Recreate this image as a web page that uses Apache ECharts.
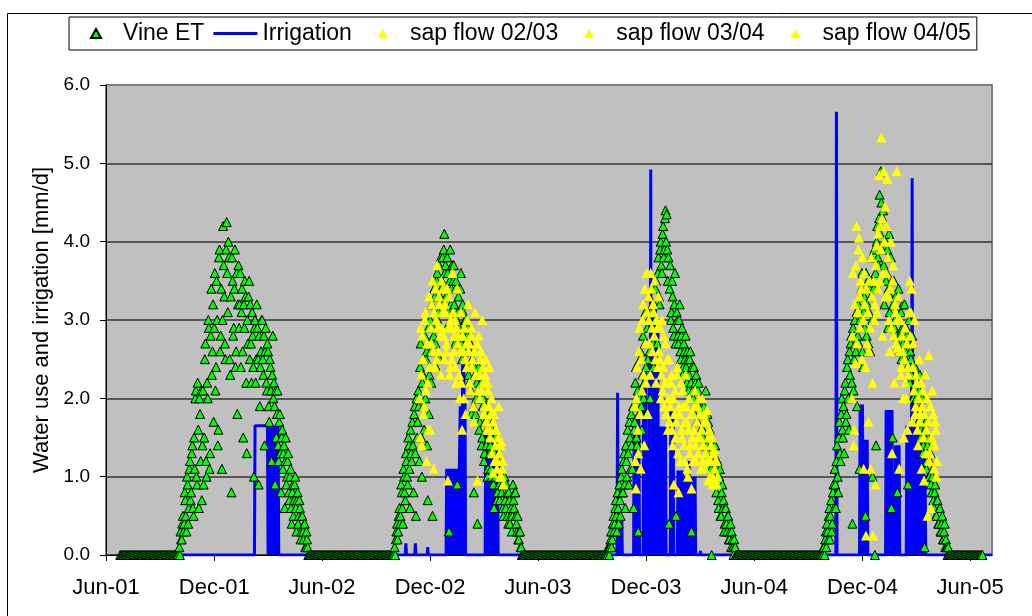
<!DOCTYPE html>
<html>
<head>
<meta charset="utf-8">
<title>Vine ET, irrigation and sap flow</title>
<script src="https://cdn.jsdelivr.net/npm/echarts@6/dist/echarts.min.js"></script>
<style>
  html, body { margin: 0; padding: 0; background: #fff; }
  #chart { width: 1032px; height: 616px; }
</style>
</head>
<body>
<div id="chart"></div>
<script>
// x axis: days counted from 1 Jun 2001, ticks every six months
const tickDates = ['2001-06-01', '2001-12-01', '2002-06-01', '2002-12-01', '2003-06-01',
                   '2003-12-01', '2004-06-01', '2004-12-01', '2005-06-01'];
const tickLabels = ['Jun-01', 'Dec-01', 'Jun-02', 'Dec-02', 'Jun-03', 'Dec-03', 'Jun-04', 'Dec-04', 'Jun-05'];
const axisStart = '2001-06-01';
const axisEnd = '2005-07-08';
const yTicks = [0, 1, 2, 3, 4, 5, 6];

// Vine ET (mm/d): dry spells (zeros, every 2nd day) and growing seasons (daily)
const etStarts = ['2001-06-25', '2001-10-03', '2002-05-11', '2002-10-02', '2003-05-08',
                  '2003-09-27', '2004-05-06', '2004-09-25', '2005-04-29'];
const etSteps = [2, 1, 2, 1, 2, 1, 2, 1, 2];
const etDry1 = [0,0,0,0,0,0,0,0,0,0, 0,0,0,0,0,0,0,0,0,0, 0,0,0,0,0,0,0,0,0,0,
                0,0,0,0,0,0,0,0,0,0, 0,0,0,0,0,0,0,0,0,0];
const etSeason1 = [
  0.1,0.0, 0.3,0.2, 0.2,0.4, 0.5,0.3, 0.4,0.8, 0.7,0.5, 0.3,1.0, 0.9,0.4, 0.6,1.1, 1.2,0.7,
  0.8,1.3, 1.4,0.6, 0.5,1.5, 1.1,2.0, 2.1,1.0, 0.9,2.2, 1.6,0.6, 2.0,1.8, 1.2,2.1, 0.7,1.4,
  2.1,0.9, 1.5,2.5, 2.7,1.2, 1.0,2.2, 2.0,3.0, 2.9,1.1, 1.3,2.8, 3.4,2.3, 2.6,3.2, 1.7,2.9,
  3.6,2.1, 2.4,3.5, 3.0,1.4, 1.6,3.8, 3.9,2.6, 2.8,3.4, 1.1,3.0, 4.2,3.7, 3.3,2.7, 2.5,3.9,
  4.25,3.6, 3.1,4.0, 3.8,2.5, 2.3,3.3, 0.8,3.8, 3.5,2.8, 2.9,3.4, 3.9,2.4, 2.6,3.6, 1.8,3.2,
  3.7,2.9, 3.2,3.6, 2.4,3.1, 3.4,2.6, 1.5,3.2, 2.9,3.5, 3.3,2.2, 1.3,3.0, 2.7,3.3, 3.5,2.5,
  3.2,2.7, 2.2,3.1, 2.8,2.4, 1.0,2.9, 3.0,2.2, 2.5,3.2, 2.9,2.5, 0.9,2.8, 1.9,2.4, 2.6,3.0,
  3.0,2.5, 2.3,2.8, 1.4,2.6, 2.9,2.2, 2.1,2.7, 2.6,1.9, 1.7,2.5, 2.4,2.1, 1.2,2.3, 2.8,2.0,
  2.2,1.9, 0.9,2.1, 1.5,1.8, 2.1,1.4, 1.2,1.7, 1.8,1.3, 0.8,1.5, 1.6,1.1, 1.3,1.4, 0.6,1.2,
  1.5,0.9, 1.0,1.2, 1.3,0.8, 0.7,1.0, 1.1,0.6, 0.4,0.8, 0.9,0.5, 0.7,0.9, 1.0,0.6, 0.3,0.7,
  0.8,0.4, 0.5,0.7, 0.6,0.2, 0.3,0.5, 0.5,0.3, 0.2,0.4, 0.4,0.1, 0.1,0.3, 0.2,0.1, 0.0];
const etDry2 = [0,0,0,0,0,0,0,0,0,0, 0,0,0,0,0,0,0,0,0,0, 0,0,0,0,0,0,0,0,0,0,
                0,0,0,0,0,0,0,0,0,0, 0,0,0,0,0,0,0,0,0,0, 0,0,0,0,0,0,0,0,0,0,
                0,0,0,0,0,0,0,0,0,0, 0,0];
const etSeason2 = [
  0.1,0.0, 0.2,0.3, 0.4,0.2, 0.3,0.5, 0.6,0.4, 0.5,0.9, 0.8,0.6, 0.4,1.1, 1.0,0.8, 0.7,1.3,
  1.2,1.0, 0.9,1.5, 1.4,1.1, 0.6,1.6, 1.3,1.2, 1.7,1.4, 0.8,1.8, 1.9,1.3, 0.5,2.0, 1.5,1.7,
  2.1,1.9, 1.2,2.4, 2.7,1.5, 1.0,2.2, 2.3,1.9, 1.6,2.8, 2.0,2.5, 2.6,1.4, 0.7,2.9, 1.8,2.3,
  3.0,2.6, 2.2,3.2, 0.5,2.9, 2.8,3.4, 3.3,2.7, 2.4,3.5, 3.6,3.0, 3.1,3.7, 2.5,3.3, 3.8,3.4,
  3.5,3.8, 3.2,3.9, 4.1,3.6, 3.7,3.3, 2.9,3.8, 3.6,3.1, 0.3,3.5, 3.9,3.2, 3.4,3.7, 3.0,3.5,
  3.7,3.2, 2.7,3.4, 3.5,3.0, 0.9,3.1, 3.3,2.9, 2.8,3.4, 3.6,2.7, 2.5,3.2, 3.1,2.8, 2.6,3.0,
  3.0,2.7, 2.4,2.8, 2.9,2.3, 2.2,2.6, 2.7,2.1, 1.8,2.5, 2.5,1.9, 0.8,2.4, 2.3,1.8, 2.0,2.2,
  0.4,2.1, 2.4,1.6, 1.7,2.0, 2.2,1.4, 1.5,1.9, 2.0,1.2, 1.3,1.7, 1.9,1.4, 1.6,1.0, 1.1,1.5,
  1.8,1.3, 1.4,1.1, 1.0,1.6, 1.7,0.9, 0.6,1.3, 1.5,1.0, 1.2,0.7, 0.8,1.2, 1.3,0.9, 0.7,1.1,
  1.1,0.8, 0.9,0.6, 0.5,1.0, 1.0,0.7, 0.6,0.9, 0.8,0.5, 0.4,0.8, 0.7,0.4, 0.5,0.6, 0.3,0.5,
  0.9,0.7, 0.6,0.8, 0.8,0.5, 0.4,0.3, 0.5,0.2, 0.2,0.3, 0.3,0.1, 0.1,0.0, 0.0];
const etDry3 = [0,0,0,0,0,0,0,0,0,0, 0,0,0,0,0,0,0,0,0,0, 0,0,0,0,0,0,0,0,0,0,
                0,0,0,0,0,0,0,0,0,0, 0,0,0,0,0,0,0,0,0,0, 0,0,0,0,0,0,0,0,0,0,
                0,0,0,0,0,0,0,0,0,0, 0];
const etSeason3 = [
  0.0,0.1, 0.1,0.0, 0.1,0.2, 0.3,0.1, 0.2,0.4, 0.5,0.3, 0.4,0.6, 0.7,0.5, 0.3,0.8, 0.6,0.4,
  0.9,0.7, 0.5,1.0, 1.1,0.8, 0.8,1.2, 1.3,0.9, 0.6,1.4, 1.2,1.0, 1.6,1.3, 0.9,1.7, 1.5,1.1,
  1.8,1.4, 1.1,1.9, 0.6,1.6, 1.7,2.2, 2.4,1.5, 1.4,2.1, 0.3,1.8, 2.0,2.5, 2.6,1.9, 1.6,2.3,
  2.8,2.0, 2.2,2.7, 3.1,2.4, 1.8,2.9, 2.5,3.0, 3.3,2.6, 2.0,3.1, 2.9,3.4, 3.2,2.7, 2.4,3.2,
  3.0,3.4, 3.5,2.9, 2.7,3.6, 3.8,3.3, 3.2,3.9, 4.0,3.7, 3.6,4.1, 4.2,3.8, 3.9,4.3, 4.4,4.0,
  4.35,3.9, 3.5,3.8, 0.4,3.4, 3.7,3.0, 3.1,3.5, 3.3,2.9, 2.8,3.2, 3.6,2.7, 0.5,3.1, 3.0,2.8,
  2.7,3.0, 3.2,2.6, 2.5,2.8, 2.9,2.3, 2.4,2.7, 2.6,2.5, 2.8,2.4, 2.2,2.6, 2.5,2.1, 2.3,2.5,
  2.6,2.2, 0.3,2.4, 2.1,2.0, 2.4,1.8, 1.9,2.2, 2.3,1.7, 1.7,2.1, 2.2,1.9, 2.0,1.5, 1.6,2.0,
  1.9,1.6, 1.5,1.9, 1.8,1.4, 2.1,1.7, 1.4,1.8, 1.7,1.3, 1.2,1.6, 1.5,1.1, 0.0,1.4, 1.3,1.0,
  1.0,1.2, 1.4,0.9, 0.8,1.1, 1.2,0.7, 0.6,1.0, 1.1,0.5, 0.5,0.8, 0.9,0.6, 0.7,0.3, 0.4,0.6,
  0.6,0.4, 0.3,0.5, 0.5,0.2, 0.2,0.3, 0.4,0.1, 0.3,0.2, 0.1,0.0, 0.2,0.1, 0.1,0.0, 0.0,0.0, 0.0];
const etDry4 = [0,0,0,0,0,0,0,0,0,0, 0,0,0,0,0,0,0,0,0,0, 0,0,0,0,0,0,0,0,0,0,
                0,0,0,0,0,0,0,0,0,0, 0,0,0,0,0,0,0,0,0,0, 0,0,0,0,0,0,0,0,0,0,
                0,0,0,0,0,0,0,0,0,0, 0];
const etSeason4 = [
  0.0,0.1, 0.1,0.0, 0.2,0.3, 0.1,0.4, 0.3,0.2, 0.5,0.6, 0.2,0.5, 0.7,0.3, 0.4,0.8, 0.9,0.6,
  1.1,0.9, 0.6,1.2, 1.4,1.0, 0.8,1.5, 1.7,1.3, 1.2,1.8, 2.0,1.6, 1.5,1.9, 1.3,2.1, 2.2,1.7,
  1.8,2.4, 2.5,2.0, 1.6,2.6, 2.3,2.7, 2.8,2.2, 0.4,2.9, 2.1,2.5, 3.0,2.7, 2.6,3.1, 1.9,2.8,
  3.2,2.7, 1.1,3.0, 2.9,3.4, 3.6,2.6, 2.4,3.1, 3.3,2.9, 0.5,3.6, 2.8,3.2, 3.5,2.7, 3.1,3.4,
  2.6,3.3, 3.8,3.0, 1.0,3.5, 3.4,3.9, 0.0,3.6, 1.4,4.0, 4.2,3.8, 3.7,4.3, 4.6,4.1, 4.9,4.5,
  3.9,4.3, 4.4,3.7, 3.2,4.0, 4.0,3.5, 3.6,3.9, 2.9,3.4, 4.1,3.1, 3.3,3.8, 0.6,3.5, 1.5,3.2,
  3.5,2.9, 3.0,3.3, 2.8,3.1, 0.8,2.7, 3.4,3.0, 2.6,2.8, 3.1,2.5, 2.9,3.2, 2.7,2.9, 3.2,2.6,
  2.5,2.9, 2.8,2.4, 0.9,2.7, 3.0,2.2, 2.6,2.5, 2.3,2.8, 2.7,2.0, 2.1,2.4, 2.4,1.9, 2.0,2.3,
  2.2,1.7, 1.8,2.1, 2.3,1.5, 1.6,1.9, 2.0,1.3, 1.4,1.8, 0.1,1.6, 1.7,1.1, 1.2,1.4, 1.5,1.0,
  1.0,1.2, 1.3,0.9, 0.8,1.0, 1.1,0.7, 0.6,0.8, 0.9,0.5, 0.5,0.7, 0.7,0.4, 0.4,0.6, 0.6,0.3,
  0.3,0.4, 0.5,0.2, 0.2,0.3, 0.4,0.1, 0.2,0.1, 0.1,0.0, 0.1,0.0, 0.0];
const etDry5 = [0,0,0,0,0,0,0,0,0,0, 0,0,0,0,0,0,0,0,0,0, 0,0,0,0,0,0,0,0];
const etRuns = [etDry1, etSeason1, etDry2, etSeason2, etDry3, etSeason3, etDry4, etSeason4, etDry5];

// sap flow (mm/d), daily, one run per season
const sapStarts = ['2002-11-13', '2003-11-12', '2004-11-13'];
const sap0203 = [
  2.0,1.5, 2.9,2.3, 1.4,2.8, 2.5,1.8, 1.9,3.0, 3.1,2.1, 1.2,2.7, 2.2,1.6, 3.3,2.4, 1.6,2.9,
  2.7,3.2, 3.5,2.6, 1.1,3.1, 2.4,3.4, 3.0,2.5, 3.7,2.9, 2.6,3.3, 3.2,2.8, 2.3,3.5, 2.9,3.1,
  3.4,2.8, 2.5,3.2, 3.1,2.6, 2.7,3.4, 0.95,2.9, 3.3,2.3, 2.4,3.0, 2.9,2.5, 3.6,3.1, 2.6,2.8,
  3.0,2.4, 2.2,2.9, 3.4,2.7, 2.8,2.3, 2.0,2.6, 3.1,2.2, 1.6,2.8, 2.6,2.0, 2.9,2.5, 1.8,2.7,
  2.4,3.0, 3.2,2.6, 2.7,2.2, 2.1,2.8, 2.9,2.4, 2.5,1.9, 1.7,2.6, 3.1,2.3, 2.3,2.7, 0.95,2.1,
  2.8,2.3, 2.0,2.5, 2.6,2.1, 3.0,2.4, 2.2,1.8, 1.9,2.3, 2.5,1.7, 1.6,2.2, 2.1,1.9, 2.4,1.6,
  1.5,1.8, 2.0,1.3, 1.05,1.7, 1.8,1.2, 1.4,1.6, 1.6,1.1, 1.2,1.5, 1.9,1.3, 1.0,1.4, 1.45,1.0, 1.1,1.2, 0.9];
const sap0304 = [
  1.9,1.2, 0.85,2.0, 2.4,1.6, 1.3,2.6, 2.9,1.8, 1.1,2.5, 2.1,3.0, 3.2,2.3, 1.4,3.4, 2.7,2.2,
  3.6,3.1, 1.8,3.3, 3.0,2.7, 2.3,3.6, 3.4,2.9, 2.6,3.2, 3.1,2.8, 3.5,2.5, 2.2,3.0, 2.9,2.4,
  3.3,2.6, 2.5,2.9, 2.0,2.3, 3.0,2.1, 2.4,2.8, 1.9,2.2, 2.7,1.8, 2.2,2.5, 1.6,2.0, 2.5,1.7,
  1.9,2.2, 2.3,1.6, 1.4,2.0, 0.9,1.8, 2.1,1.5, 1.7,2.3, 2.4,1.3, 0.8,1.9, 1.8,1.2, 2.2,1.6,
  1.5,2.1, 1.9,1.4, 1.2,1.7, 2.3,1.9, 1.7,1.1, 1.0,1.6, 2.0,1.3, 1.4,1.8, 0.85,1.5, 1.8,1.2,
  1.6,1.9, 2.1,1.4, 1.2,1.7, 1.9,1.3, 1.5,2.0, 1.8,1.5, 1.1,1.6, 2.0,1.2, 1.4,1.8, 1.7,1.1,
  1.3,1.7, 1.85,1.2, 0.95,1.5, 1.6,1.0, 1.2,1.4, 1.5,0.9, 1.0,1.3, 1.35,1.1, 0.9,1.2, 1.2,0.9, 1.0];
const sap0405 = [
  2.0,2.8, 3.6,1.4, 1.6,3.2, 2.45,3.7, 4.2,2.7, 3.1,3.9, 4.05,3.3, 2.9,3.5, 3.4,2.5, 3.8,3.0,
  1.1,3.6, 3.2,2.4, 0.25,3.4, 2.7,3.1, 1.7,2.6, 3.5,2.9, 1.1,3.8, 3.3,2.2, 0.25,3.5, 3.0,3.2,
  0.9,3.7, 3.95,3.1, 3.4,4.1, 4.85,3.5, 4.2,3.9, 5.33,4.3, 2.8,3.6, 4.9,4.0, 4.45,3.3, 3.6,4.2,
  4.8,3.8, 3.3,3.0, 2.6,3.4, 4.0,2.9, 1.3,3.5, 3.7,2.8, 2.2,3.2, 3.1,2.7, 4.9,3.0, 2.65,3.3,
  1.1,2.6, 3.0,2.3, 2.4,2.8, 2.6,2.0, 1.5,2.5, 2.9,2.2, 2.0,2.7, 1.6,2.4, 2.3,3.1, 3.5,2.8,
  3.1,3.4, 1.7,2.4, 2.7,2.1, 3.0,1.8, 1.9,2.3, 2.2,1.6, 1.4,2.0, 2.5,1.7, 1.8,2.2, 1.1,1.9,
  2.1,1.5, 0.95,1.8, 2.3,1.3, 1.6,2.0, 0.5,1.7, 2.55,1.2, 1.3,1.9, 0.6,1.5, 2.1,1.4, 1.8,1.1, 1.4,1.7, 1.6,1.0, 1.2];

// irrigation (mm/d): daily values where they change, line runs straight between them
const irrigation = [
  ['2001-06-25', 0], ['2002-02-07', 0], ['2002-02-08', 1.65], ['2002-03-01', 1.65],
  ['2002-03-02', 0], ['2002-03-03', 1.65], ['2002-03-04', 0], ['2002-03-05', 1.65], ['2002-03-06', 0.05],
  ['2002-03-07', 1.65], ['2002-03-08', 0], ['2002-03-09', 1.65], ['2002-03-10', 0], ['2002-03-11', 1.65],
  ['2002-03-12', 0], ['2002-03-13', 1.65], ['2002-03-14', 0], ['2002-03-15', 1.65], ['2002-03-16', 0],
  ['2002-03-17', 1.65], ['2002-03-18', 0], ['2002-03-19', 1.65], ['2002-03-20', 0],

  ['2002-10-20', 0], ['2002-10-21', 0.15], ['2002-10-22', 0], ['2002-11-05', 0], ['2002-11-06', 0.15],
  ['2002-11-07', 0], ['2002-11-26', 0], ['2002-11-27', 0.1], ['2002-11-28', 0],
  ['2002-12-28', 0], ['2002-12-29', 1.1], ['2002-12-30', 0], ['2002-12-31', 1.1], ['2003-01-01', 0],
  ['2003-01-02', 1.1], ['2003-01-03', 0], ['2003-01-04', 1.1], ['2003-01-05', 0.1], ['2003-01-06', 1.1],
  ['2003-01-07', 0], ['2003-01-08', 1.1], ['2003-01-09', 0], ['2003-01-10', 1.1], ['2003-01-11', 0],
  ['2003-01-12', 1.1], ['2003-01-13', 0], ['2003-01-14', 1.1], ['2003-01-15', 0], ['2003-01-16', 1.1],
  ['2003-01-17', 0], ['2003-01-20', 0], ['2003-01-21', 1.9], ['2003-01-22', 0], ['2003-01-23', 1.9],
  ['2003-01-24', 0], ['2003-01-25', 2.8], ['2003-01-26', 0], ['2003-01-27', 2.8], ['2003-01-28', 0],
  ['2003-01-29', 2.0], ['2003-01-30', 0],
  ['2003-03-04', 0], ['2003-03-05', 1.6], ['2003-03-06', 0], ['2003-03-07', 1.6], ['2003-03-08', 0],
  ['2003-03-09', 1.5], ['2003-03-10', 0], ['2003-03-11', 1.6], ['2003-03-12', 0], ['2003-03-13', 1.6],
  ['2003-03-14', 0], ['2003-03-15', 1.5], ['2003-03-16', 0], ['2003-03-17', 1.6], ['2003-03-18', 0],
  ['2003-03-19', 1.6], ['2003-03-20', 0], ['2003-03-21', 1.5], ['2003-03-22', 0], ['2003-03-23', 1.6],
  ['2003-03-24', 0], ['2003-03-25', 1.6], ['2003-03-26', 0],

  ['2003-10-13', 0], ['2003-10-14', 2.07], ['2003-10-15', 0], ['2003-10-16', 0], ['2003-10-17', 0.5],
  ['2003-10-18', 0], ['2003-10-19', 0.5], ['2003-10-20', 0], ['2003-10-21', 0.5], ['2003-10-22', 0],
  ['2003-11-10', 0], ['2003-11-11', 1.76], ['2003-11-12', 0], ['2003-11-13', 1.76], ['2003-11-14', 0],
  ['2003-11-15', 1.76], ['2003-11-16', 0], ['2003-11-17', 1.76], ['2003-11-18', 0], ['2003-11-19', 1.76],
  ['2003-11-20', 0], ['2003-11-26', 0], ['2003-11-27', 2.36], ['2003-11-28', 0], ['2003-11-29', 2.36],
  ['2003-11-30', 0], ['2003-12-01', 2.36], ['2003-12-02', 0], ['2003-12-03', 1.0], ['2003-12-04', 0],
  ['2003-12-05', 1.0], ['2003-12-06', 0], ['2003-12-07', 2.5], ['2003-12-08', 0], ['2003-12-09', 4.92],
  ['2003-12-10', 0], ['2003-12-11', 3.2], ['2003-12-12', 0], ['2003-12-13', 3.2], ['2003-12-14', 0],
  ['2003-12-15', 3.0], ['2003-12-16', 0], ['2003-12-17', 3.2], ['2003-12-18', 0], ['2003-12-19', 2.8],
  ['2003-12-20', 0], ['2003-12-21', 3.0], ['2003-12-22', 0],
  ['2003-12-25', 0], ['2003-12-26', 1.64], ['2003-12-27', 0], ['2003-12-28', 1.64], ['2003-12-29', 0],
  ['2003-12-30', 1.64], ['2003-12-31', 0], ['2004-01-01', 1.64], ['2004-01-02', 0], ['2004-01-03', 1.64],
  ['2004-01-04', 0], ['2004-01-11', 0], ['2004-01-12', 1.85], ['2004-01-13', 0], ['2004-01-14', 1.85],
  ['2004-01-15', 0], ['2004-01-16', 1.85], ['2004-01-17', 0],
  ['2004-01-23', 0], ['2004-01-24', 1.08], ['2004-01-25', 0], ['2004-01-26', 1.08], ['2004-01-27', 0],
  ['2004-01-28', 1.08], ['2004-01-29', 0], ['2004-01-30', 1.08], ['2004-01-31', 0], ['2004-02-01', 1.08],
  ['2004-02-02', 0], ['2004-02-05', 0], ['2004-02-06', 1.0], ['2004-02-07', 0], ['2004-02-08', 1.0],
  ['2004-02-09', 0], ['2004-02-10', 1.0], ['2004-02-11', 0], ['2004-02-12', 1.2], ['2004-02-13', 0],
  ['2004-02-14', 1.0], ['2004-02-15', 0], ['2004-02-16', 1.0], ['2004-02-17', 0], ['2004-02-18', 1.0],
  ['2004-02-19', 0], ['2004-02-20', 1.0], ['2004-02-21', 0], ['2004-02-22', 1.0], ['2004-02-23', 0],
  ['2004-03-01', 0], ['2004-03-02', 0.05], ['2004-03-03', 0],

  ['2004-10-17', 0], ['2004-10-18', 5.66], ['2004-10-19', 0],
  ['2004-11-26', 0], ['2004-11-27', 1.92], ['2004-11-28', 0], ['2004-11-29', 1.92], ['2004-11-30', 0],
  ['2004-12-01', 1.92], ['2004-12-02', 0], ['2004-12-03', 1.47], ['2004-12-04', 0], ['2004-12-05', 1.47],
  ['2004-12-06', 0], ['2004-12-07', 1.47], ['2004-12-08', 0], ['2004-12-09', 1.47], ['2004-12-10', 0],
  ['2005-01-09', 0], ['2005-01-10', 1.85], ['2005-01-11', 0], ['2005-01-12', 1.85], ['2005-01-13', 0],
  ['2005-01-14', 1.85], ['2005-01-15', 0], ['2005-01-16', 1.85], ['2005-01-17', 0], ['2005-01-18', 1.85],
  ['2005-01-19', 0], ['2005-01-20', 1.85], ['2005-01-21', 0],
  ['2005-01-25', 0], ['2005-01-26', 1.4], ['2005-01-27', 0], ['2005-01-28', 1.25], ['2005-01-29', 0],
  ['2005-01-30', 1.4], ['2005-01-31', 0], ['2005-02-01', 1.4], ['2005-02-02', 0],
  ['2005-02-13', 0], ['2005-02-14', 1.65], ['2005-02-15', 0], ['2005-02-16', 1.65], ['2005-02-17', 0],
  ['2005-02-18', 1.65], ['2005-02-19', 0], ['2005-02-20', 1.65], ['2005-02-21', 0], ['2005-02-22', 1.65],
  ['2005-02-23', 4.81], ['2005-02-24', 0], ['2005-02-25', 1.65], ['2005-02-26', 0], ['2005-02-27', 1.65],
  ['2005-02-28', 0], ['2005-03-01', 1.55], ['2005-03-02', 0], ['2005-03-03', 1.55], ['2005-03-04', 0],
  ['2005-03-05', 1.55], ['2005-03-06', 0], ['2005-03-07', 1.55], ['2005-03-08', 0], ['2005-03-09', 1.55],
  ['2005-03-10', 0], ['2005-03-11', 1.2], ['2005-03-12', 0], ['2005-03-13', 1.55], ['2005-03-14', 0],
  ['2005-03-15', 1.55], ['2005-03-16', 0], ['2005-03-17', 1.0], ['2005-03-18', 0],
  ['2005-07-08', 0]
];

// ---- helpers: dates -> day number on the x axis ----
const DAY_MS = 24 * 60 * 60 * 1000;
const t0 = Date.parse(axisStart);
function dayOf(dateStr) {
  return Math.round((Date.parse(dateStr) - t0) / DAY_MS);
}
function runPoints(start, values, step) {
  const d0 = dayOf(start);
  return values.map((v, i) => [d0 + i * step, v]);
}

const tickDays = tickDates.map(dayOf);
let etData = [];
etRuns.forEach((run, k) => { etData = etData.concat(runPoints(etStarts[k], run, etSteps[k])); });
const sapData = [sap0203, sap0304, sap0405].map((run, k) => runPoints(sapStarts[k], run, 1));
const irrData = irrigation.map(p => [dayOf(p[0]), p[1]]);

const FONT = '"Liberation Sans", Arial, sans-serif';
// legend icons span the whole 44x9 icon box, the mark sits in its middle
const TRIANGLE_ICON = 'path://M0,0M44,9M22,0L27,9L17,9Z';
const LINE_ICON = 'path://M0,0M44,9M0,3L44,3L44,6L0,6Z';

const chart = echarts.init(document.getElementById('chart'), null, { renderer: 'canvas' });
const option = {
  animation: false,
  backgroundColor: '#ffffff',
  textStyle: { fontFamily: FONT, color: '#000' },
  graphic: [{
    type: 'rect',
    shape: { x: 7.5, y: 13.5, width: 1100, height: 700 },
    style: { fill: 'none', stroke: '#000', lineWidth: 1 },
    silent: true
  }],
  legend: {
    left: 69,
    top: 17,
    itemWidth: 44,
    itemHeight: 9,
    itemGap: 9,
    symbolKeepAspect: false,
    padding: [5, 6, 5, 4],
    borderColor: '#000',
    borderWidth: 1,
    textStyle: { fontSize: 23, fontFamily: FONT, color: '#000' },
    data: [
      { name: 'Vine ET', icon: TRIANGLE_ICON },
      { name: 'Irrigation', icon: LINE_ICON },
      { name: 'sap flow 02/03', icon: TRIANGLE_ICON },
      { name: 'sap flow 03/04', icon: TRIANGLE_ICON },
      { name: 'sap flow 04/05', icon: TRIANGLE_ICON }
    ]
  },
  grid: {
    left: 106, top: 85, right: 40, bottom: 61,
    show: true,
    backgroundColor: '#c0c0c0',
    borderColor: '#808080',
    borderWidth: 2
  },
  xAxis: {
    type: 'value',
    min: 0,
    max: dayOf(axisEnd),
    axisLine: { show: true, onZero: false, lineStyle: { color: '#000', width: 1 } },
    axisTick: { show: true, customValues: tickDays, length: 6, lineStyle: { color: '#000' } },
    axisLabel: {
      customValues: tickDays,
      margin: 22,
      fontSize: 22,
      fontFamily: FONT,
      color: '#000',
      formatter: v => tickLabels[tickDays.indexOf(v)] || ''
    },
    splitLine: { show: false }
  },
  yAxis: {
    type: 'value',
    min: 0,
    max: 6,
    interval: 1,
    name: 'Water use and irrigation [mm/d]',
    nameLocation: 'middle',
    nameGap: 51,
    nameTextStyle: { fontSize: 22, fontFamily: FONT, color: '#000' },
    axisLine: { show: true, lineStyle: { color: '#000', width: 1 } },
    axisTick: { show: true, length: 6, lineStyle: { color: '#000' } },
    axisLabel: {
      margin: 16,
      fontSize: 19,
      fontFamily: FONT,
      color: '#000',
      formatter: v => (yTicks.indexOf(v) >= 0 ? v.toFixed(1) : '')
    },
    splitLine: {
      show: true,
      lineStyle: { color: ['#333', '#333', '#333', '#333', '#333', '#333', '#808080'], width: 1.5 }
    }
  },
  series: [
    {
      name: 'Vine ET',
      type: 'scatter',
      symbol: 'triangle',
      symbolSize: 9,
      z: 3,
      itemStyle: { color: '#00ff00', borderColor: '#000', borderWidth: 1, opacity: 1 },
      data: etData
    },
    {
      name: 'Irrigation',
      type: 'line',
      symbol: 'none',
      z: 2,
      lineStyle: { color: '#0000ff', width: 3 },
      itemStyle: { color: '#0000ff' },
      data: irrData
    },
    {
      name: 'sap flow 02/03',
      type: 'scatter',
      symbol: 'triangle',
      symbolSize: 10,
      z: 4,
      itemStyle: { color: '#ffff00', opacity: 1 },
      data: sapData[0]
    },
    {
      name: 'sap flow 03/04',
      type: 'scatter',
      symbol: 'triangle',
      symbolSize: 10,
      z: 4,
      itemStyle: { color: '#ffff00', opacity: 1 },
      data: sapData[1]
    },
    {
      name: 'sap flow 04/05',
      type: 'scatter',
      symbol: 'triangle',
      symbolSize: 10,
      z: 4,
      itemStyle: { color: '#ffff00', opacity: 1 },
      data: sapData[2]
    }
  ]
};
chart.setOption(option);
window.addEventListener('resize', function () {
  chart.resize();
});
</script>
</body>
</html>
